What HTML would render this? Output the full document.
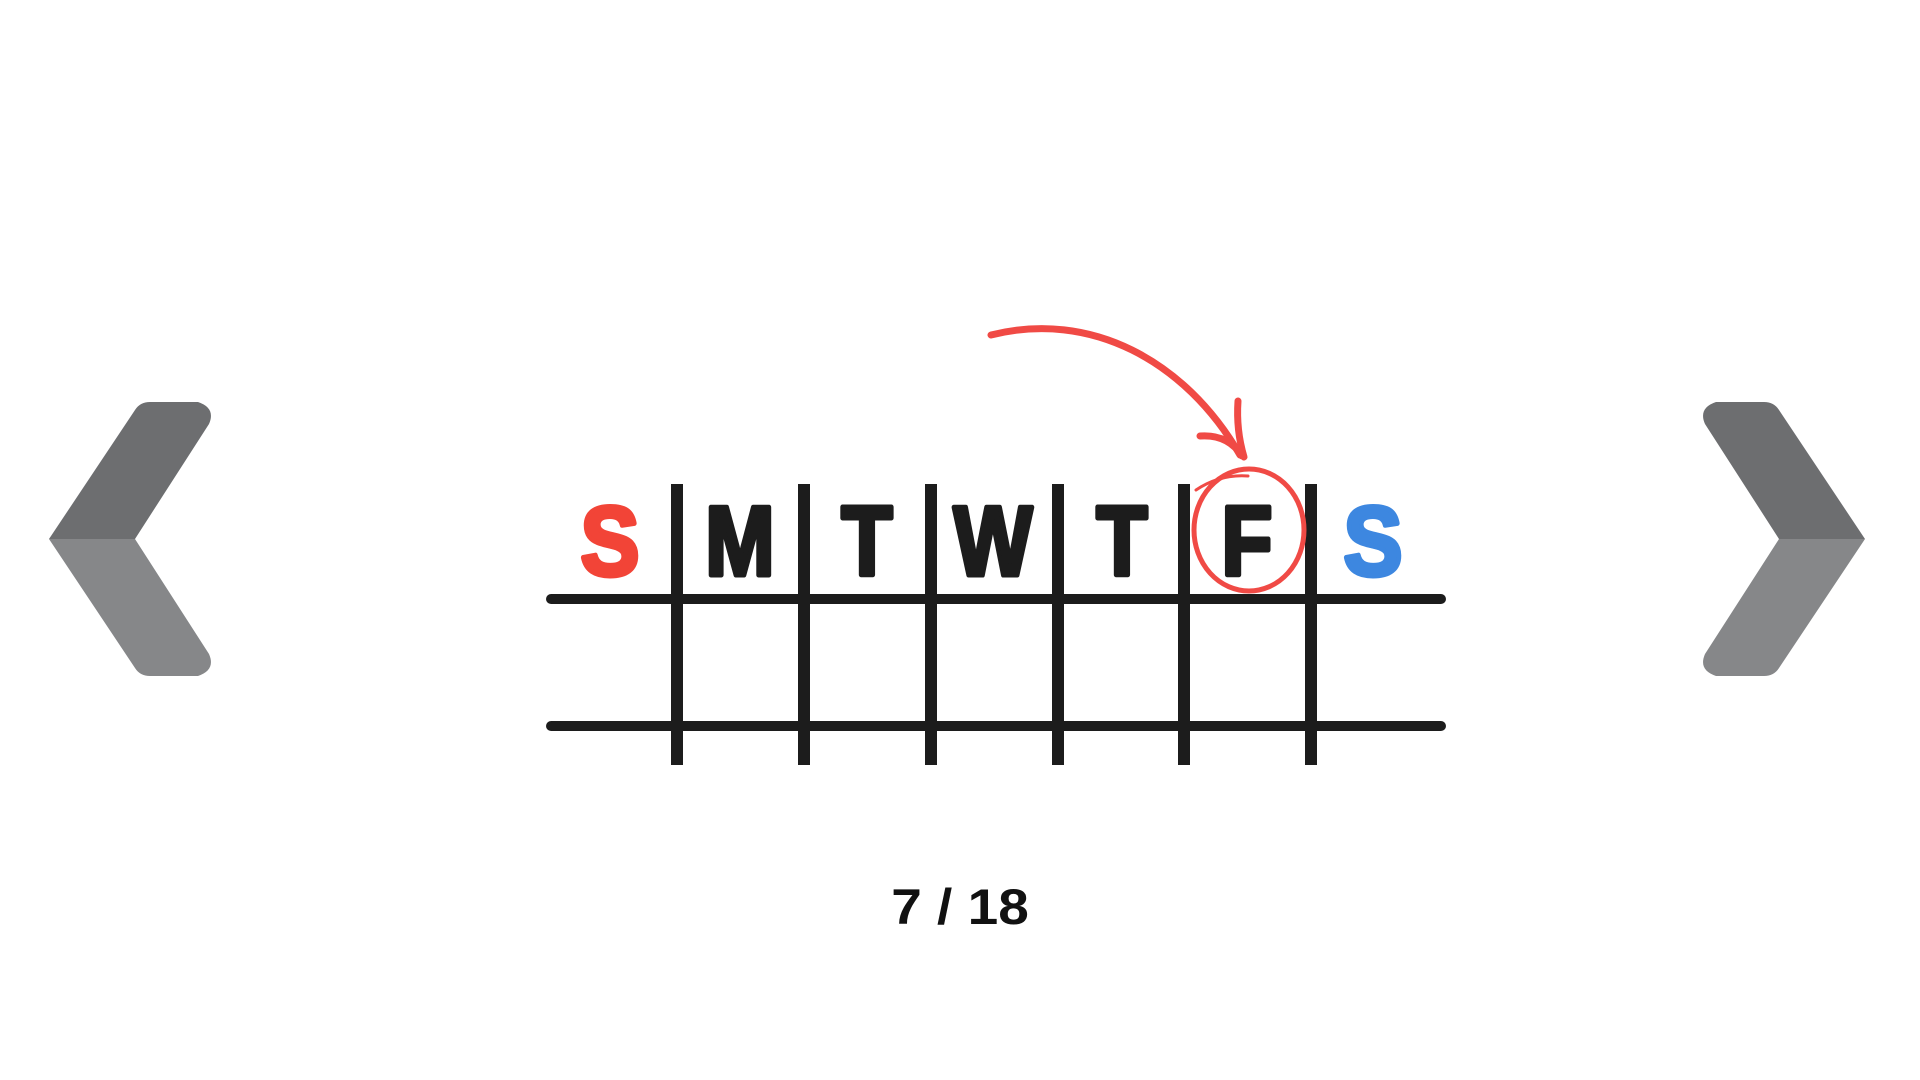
<!DOCTYPE html>
<html>
<head>
<meta charset="utf-8">
<style>
  html,body{margin:0;padding:0;background:#fff;}
  #stage{position:relative;width:1920px;height:1080px;overflow:hidden;background:#fff;}
  svg{position:absolute;left:0;top:0;}
  .day{font-family:"Liberation Sans",sans-serif;font-weight:bold;font-size:98px;stroke-width:5px;stroke-linejoin:round;}
</style>
</head>
<body>
<div id="stage">
<svg width="1920" height="1080" viewBox="0 0 1920 1080">
  <g>
    <path d="M49,539 L135,410 Q140,402 150,402 L198,402 Q216,408 209,424 L135,539 Z" fill="#6d6e70"/>
    <path d="M49,539 L135,668 Q140,676 150,676 L198,676 Q216,670 209,654 L135,539 Z" fill="#868789"/>
  </g>
  <g>
    <path d="M1865,539 L1779,410 Q1774,402 1764,402 L1716,402 Q1698,408 1705,424 L1779,539 Z" fill="#6d6e70"/>
    <path d="M1865,539 L1779,668 Q1774,676 1764,676 L1716,676 Q1698,670 1705,654 L1779,539 Z" fill="#868789"/>
  </g>

  <g stroke="#1c1c1c" stroke-linecap="round">
    <line x1="551" y1="599" x2="1441" y2="599" stroke-width="10"/>
    <line x1="551" y1="726" x2="1441" y2="726" stroke-width="10"/>
    <g stroke-linecap="butt" stroke-width="12">
      <line x1="677" y1="484" x2="677" y2="765"/>
      <line x1="804" y1="484" x2="804" y2="765"/>
      <line x1="931" y1="484" x2="931" y2="765"/>
      <line x1="1058" y1="484" x2="1058" y2="765"/>
      <line x1="1184" y1="484" x2="1184" y2="765"/>
      <line x1="1311" y1="484" x2="1311" y2="765"/>
    </g>
  </g>

  <g class="day" text-anchor="middle">
    <text x="610" y="575" fill="#f24437" stroke="#f24437" transform="translate(610,0) scale(0.9,1) translate(-610,0)">S</text>
    <text x="740" y="575" fill="#1c1c1c" stroke="#1c1c1c" transform="translate(740,0) scale(0.85,1) translate(-740,0)">M</text>
    <text x="867" y="575" fill="#1c1c1c" stroke="#1c1c1c" transform="translate(867,0) scale(0.85,1) translate(-867,0)">T</text>
    <text x="993" y="575" fill="#1c1c1c" stroke="#1c1c1c" transform="translate(993,0) scale(0.85,1) translate(-993,0)">W</text>
    <text x="1122" y="575" fill="#1c1c1c" stroke="#1c1c1c" transform="translate(1122,0) scale(0.85,1) translate(-1122,0)">T</text>
    <text x="1247" y="575" fill="#1c1c1c" stroke="#1c1c1c" transform="translate(1247,0) scale(0.85,1) translate(-1247,0)">F</text>
    <text x="1373" y="575" fill="#3d87e0" stroke="#3d87e0" transform="translate(1373,0) scale(0.9,1) translate(-1373,0)">S</text>
  </g>

  <g fill="none" stroke="#f04a45" stroke-linecap="round">
    <ellipse cx="1249" cy="530" rx="55" ry="61" stroke-width="5"/>
    <path d="M1196,490 Q1220,474 1248,476" stroke-width="3"/>
    <path d="M991,335 C1090,310 1185,360 1240,455" stroke-width="7"/>
    <path d="M1238,401 Q1236,430 1244,457" stroke-width="7"/>
    <path d="M1200,436 Q1228,434 1242,456" stroke-width="7"/>
  </g>

  <text x="960" y="924" text-anchor="middle" font-family="'Liberation Sans',sans-serif" font-weight="bold" font-size="50" fill="#111" transform="translate(960,0) scale(1.1,1) translate(-960,0)">7 / 18</text>
</svg>
</div>
</body>
</html>
